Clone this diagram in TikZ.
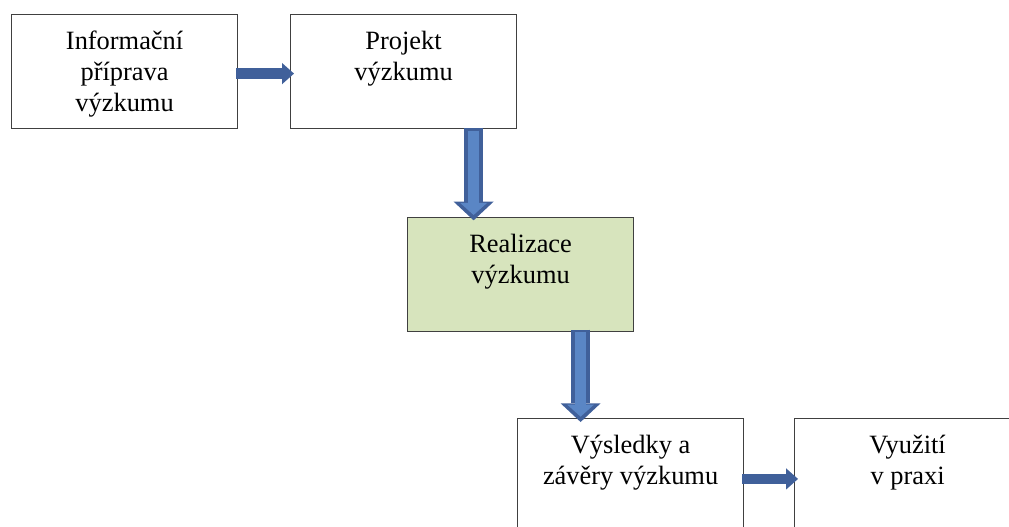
\documentclass[tikz,border=0pt]{standalone}
\usepackage{fontspec}
\setmainfont{Liberation Serif}
\usepackage{xcolor}
\usepackage{tikz}
\usetikzlibrary{arrows.meta}

\definecolor{arrowdark}{HTML}{40609A}
\definecolor{arrowlight}{HTML}{5A86C5}
\definecolor{stepgreen}{HTML}{D7E4BD}

\tikzset{
  box/.style={draw=black!75, line width=0.9pt, anchor=north west, minimum width=169.5pt,
    minimum height=85.5pt, align=center, inner sep=0pt, text depth=0pt,
    font=\fontsize{19.8}{23.2}\selectfont,
    execute at begin node={\rule{0pt}{18.5pt}}},
  flowh/.style={draw=arrowdark, line width=8pt, shorten <=-1.5pt, shorten >=-3pt,
    -{Triangle[width=16pt,length=9pt,line width=0pt]}},
  flowv/.style={draw=arrowdark, line width=14pt,
    -{Triangle[width=30pt,length=14pt,line width=0pt]}},
  flowvin/.style={draw=arrowlight, line width=8pt, shorten <=2pt, shorten >=4pt,
    -{Triangle[width=20pt,length=9pt,line width=0pt]}}
}

\begin{document}
\begin{tikzpicture}[x=0.75pt,y=-0.75pt]
  \useasboundingbox (0,0) rectangle (1009,527);
  % steps of the research
  \node[box] (prep) at (11,14) {Informační\\příprava\\výzkumu};
  \node[box] (proj) at (290,14) {Projekt\\výzkumu\\\mbox{}};
  \node[box, fill=stepgreen] (real) at (407,217) {Realizace\\výzkumu\\\mbox{}};
  \node[box] (res) at (517,418) {Výsledky a\\závěry výzkumu\\\mbox{}};
  \node[box] (use) at (794,418) {Využití\\v praxi\\\mbox{}};
  % arrows
  \draw[flowh] ([yshift=-1.5pt]prep.east) -- ([yshift=-1.5pt]prep.east -| proj.west);
  \draw[flowv] ([xshift=52.5pt,yshift=1pt]proj.south) -- ([xshift=52.5pt,yshift=-2.5pt]proj.south |- real.north);
  \draw[flowvin] ([xshift=52.5pt,yshift=1pt]proj.south) -- ([xshift=52.5pt,yshift=-2.5pt]proj.south |- real.north);
  \draw[flowv] ([xshift=45pt,yshift=2pt]real.south) -- ([xshift=45pt,yshift=-3pt]real.south |- res.north);
  \draw[flowvin] ([xshift=45pt,yshift=2pt]real.south) -- ([xshift=45pt,yshift=-3pt]real.south |- res.north);
  \draw[flowh] ([yshift=-2.5pt]res.east) -- ([yshift=-2.5pt]res.east -| use.west);
\end{tikzpicture}
\end{document}
